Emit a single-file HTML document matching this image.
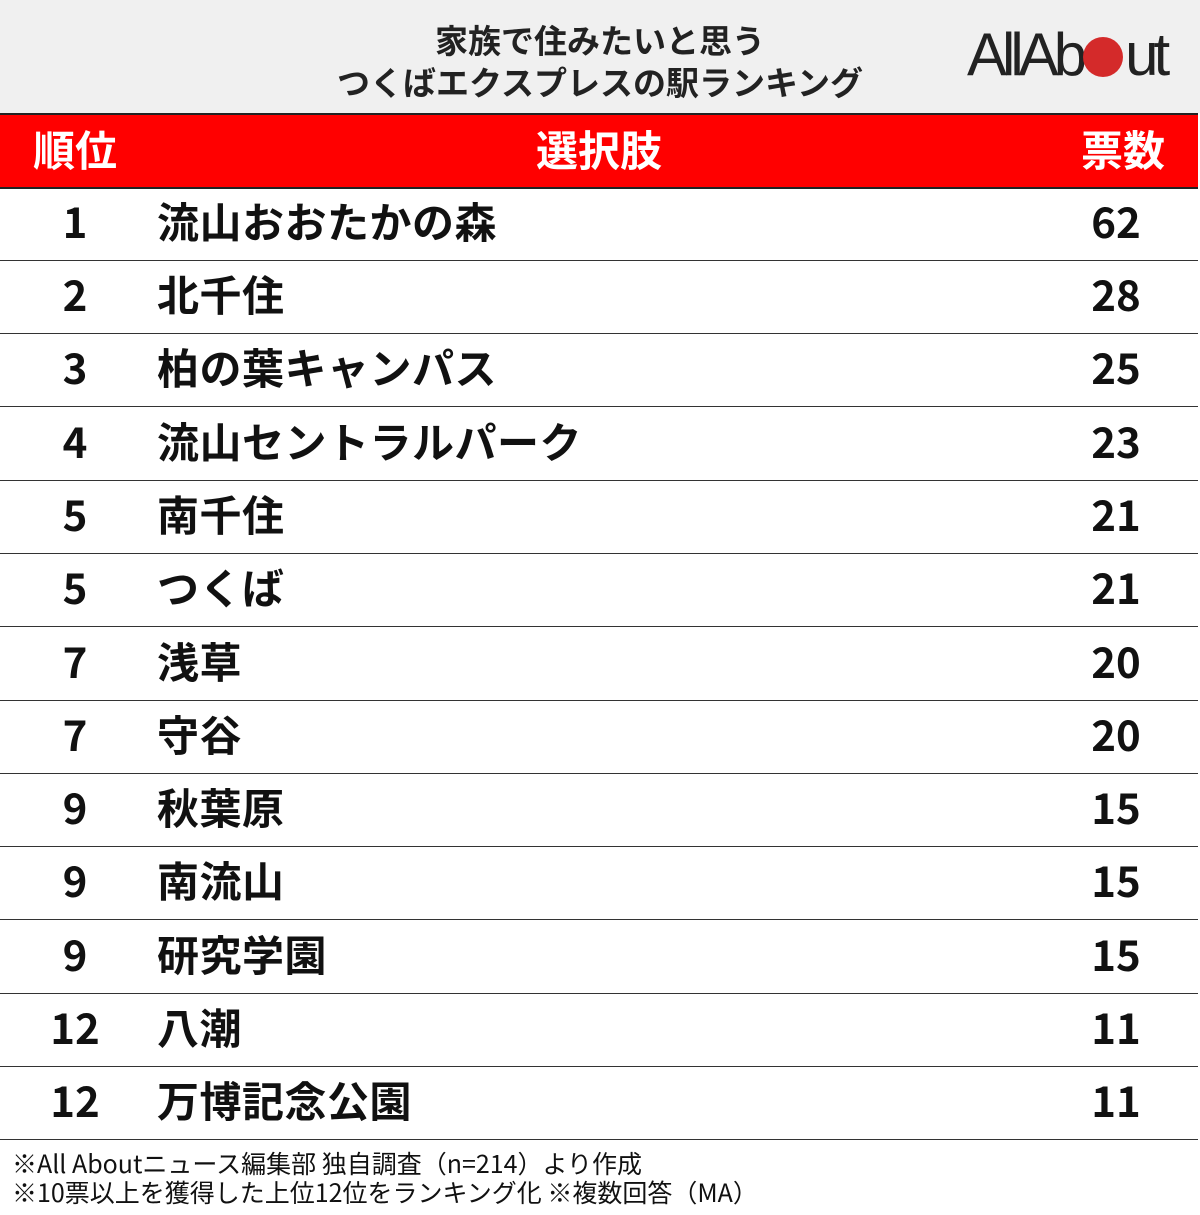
<!DOCTYPE html>
<html><head><meta charset="utf-8"><style>
body{margin:0;width:1200px;height:1215px;background:#fff;position:relative;overflow:hidden;font-family:"Liberation Sans","Noto Sans CJK JP",sans-serif;}
.hdr{position:absolute;left:0;top:0;width:1200px;height:113px;background:#f0f0f0;}
.title{position:absolute;left:250px;width:700px;top:18px;text-align:center;font-size:33px;line-height:42px;font-weight:bold;color:#222;font-family:"Noto Sans CJK JP",sans-serif;}
.logo{position:absolute;left:967px;top:22px;font-size:60px;letter-spacing:-5px;color:#222;font-family:"Liberation Sans",sans-serif;line-height:66px;}
.dot{display:inline-block;width:40px;height:40px;border-radius:50%;background:#d42a2a;vertical-align:-2px;margin:0 2px 0 1px;}
.bar{position:absolute;left:0;top:113px;width:1198px;height:72px;background:#f00;border-top:2px solid #222;border-bottom:2px solid #222;color:#fff;font-weight:bold;font-size:42px;font-family:"Noto Sans CJK JP",sans-serif;}
.bar span{position:absolute;top:4px;line-height:60px;}
.row{position:absolute;left:0;width:1198px;height:73px;border-bottom:1.5px solid #333;font-weight:bold;font-size:42px;color:#111;font-family:"Noto Sans CJK JP",sans-serif;}
.row span{position:absolute;top:4px;line-height:60px;}
.r{left:20px;width:110px;text-align:center;}
.n{left:157px;letter-spacing:0.5px;}
.v{left:1060px;width:112px;text-align:center;}
.foot{position:absolute;left:12px;top:1149px;font-size:25px;line-height:29px;color:#111;font-family:"Noto Sans CJK JP",sans-serif;}
</style></head><body>
<div class="hdr"></div>
<div class="title">家族で住みたいと思う<br>つくばエクスプレスの駅ランキング</div>
<div class="logo">AllAb<span class="dot"></span>ut</div>
<div class="bar"><span style="left:33px">順位</span><span style="left:536px">選択肢</span><span style="left:1081px">票数</span></div>
<div class="row" style="top:187px"><span class="r">1</span><span class="n">流山おおたかの森</span><span class="v">62</span></div>
<div class="row" style="top:260px"><span class="r">2</span><span class="n">北千住</span><span class="v">28</span></div>
<div class="row" style="top:333px"><span class="r">3</span><span class="n">柏の葉キャンパス</span><span class="v">25</span></div>
<div class="row" style="top:407px"><span class="r">4</span><span class="n">流山セントラルパーク</span><span class="v">23</span></div>
<div class="row" style="top:480px"><span class="r">5</span><span class="n">南千住</span><span class="v">21</span></div>
<div class="row" style="top:553px"><span class="r">5</span><span class="n">つくば</span><span class="v">21</span></div>
<div class="row" style="top:627px"><span class="r">7</span><span class="n">浅草</span><span class="v">20</span></div>
<div class="row" style="top:700px"><span class="r">7</span><span class="n">守谷</span><span class="v">20</span></div>
<div class="row" style="top:773px"><span class="r">9</span><span class="n">秋葉原</span><span class="v">15</span></div>
<div class="row" style="top:846px"><span class="r">9</span><span class="n">南流山</span><span class="v">15</span></div>
<div class="row" style="top:920px"><span class="r">9</span><span class="n">研究学園</span><span class="v">15</span></div>
<div class="row" style="top:993px"><span class="r">12</span><span class="n">八潮</span><span class="v">11</span></div>
<div class="row" style="top:1066px"><span class="r">12</span><span class="n">万博記念公園</span><span class="v">11</span></div>
<div class="foot">※All Aboutニュース編集部 独自調査（n=214）より作成<br>※10票以上を獲得した上位12位をランキング化 ※複数回答（MA）</div>
</body></html>
